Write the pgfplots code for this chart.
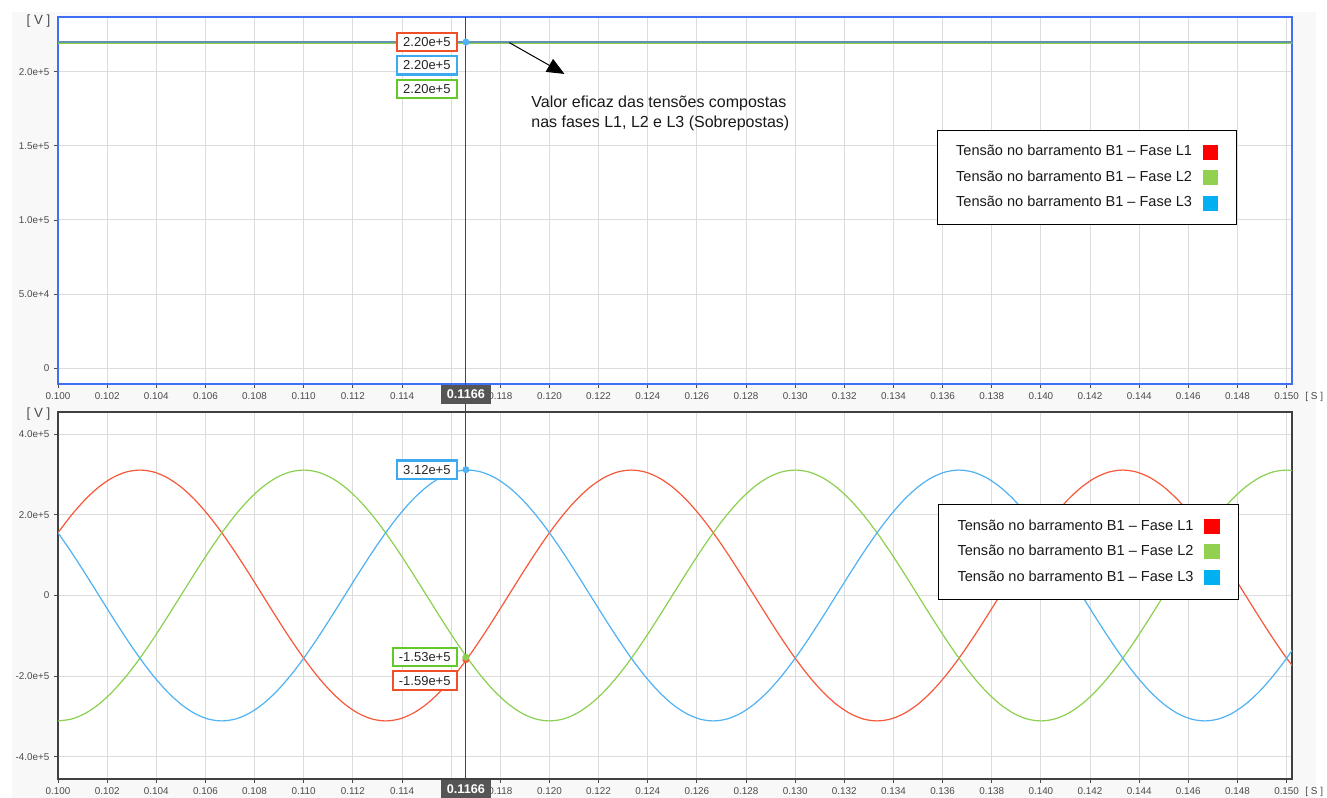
\documentclass[border=0pt]{standalone}
\usepackage{pgfplots}
\pgfplotsset{compat=1.18}
\usepackage{pgfplotstable}
\usepackage{fontspec}
\setmainfont{Liberation Sans}
\usetikzlibrary{arrows.meta}

\definecolor{cR}{RGB}{248,88,58}
\definecolor{cG}{RGB}{140,208,80}
\definecolor{cB}{RGB}{78,178,245}
\definecolor{cTop}{RGB}{100,148,172}
\definecolor{sqR}{RGB}{255,0,0}
\definecolor{sqG}{RGB}{146,208,80}
\definecolor{sqB}{RGB}{0,176,240}
\definecolor{bxR}{RGB}{240,80,40}
\definecolor{bxG}{RGB}{100,200,40}
\definecolor{bxB}{RGB}{60,170,240}
\definecolor{frameblue}{RGB}{64,110,245}
\definecolor{gridgray}{RGB}{220,220,220}
\definecolor{tickgray}{RGB}{75,75,75}
\definecolor{bgray}{RGB}{248,248,248}
\definecolor{curgray}{RGB}{70,70,70}
\definecolor{curbox}{RGB}{85,85,85}

\pgfplotstableread{
t L1 L2 L3
0.100000 155500 -311000 155500
0.100556 199907 -306275 106368
0.101111 238240 -292245 54005
0.101667 269334 -269334 0
0.102222 292245 -238240 -54005
0.102778 306275 -199907 -106368
0.103333 311000 -155500 -155500
0.103889 306275 -106368 -199907
0.104444 292245 -54005 -238240
0.105000 269334 0 -269334
0.105556 238240 54005 -292245
0.106111 199907 106368 -306275
0.106667 155500 155500 -311000
0.107222 106368 199907 -306275
0.107778 54005 238240 -292245
0.108333 0 269334 -269334
0.108889 -54005 292245 -238240
0.109444 -106368 306275 -199907
0.110000 -155500 311000 -155500
0.110556 -199907 306275 -106368
0.111111 -238240 292245 -54005
0.111667 -269334 269334 0
0.112222 -292245 238240 54005
0.112778 -306275 199907 106368
0.113333 -311000 155500 155500
0.113889 -306275 106368 199907
0.114444 -292245 54005 238240
0.115000 -269334 0 269334
0.115556 -238240 -54005 292245
0.116111 -199907 -106368 306275
0.116667 -155500 -155500 311000
0.117222 -106368 -199907 306275
0.117778 -54005 -238240 292245
0.118333 0 -269334 269334
0.118889 54005 -292245 238240
0.119444 106368 -306275 199907
0.120000 155500 -311000 155500
0.120556 199907 -306275 106368
0.121111 238240 -292245 54005
0.121667 269334 -269334 0
0.122222 292245 -238240 -54005
0.122778 306275 -199907 -106368
0.123333 311000 -155500 -155500
0.123889 306275 -106368 -199907
0.124444 292245 -54005 -238240
0.125000 269334 0 -269334
0.125556 238240 54005 -292245
0.126111 199907 106368 -306275
0.126667 155500 155500 -311000
0.127222 106368 199907 -306275
0.127778 54005 238240 -292245
0.128333 0 269334 -269334
0.128889 -54005 292245 -238240
0.129444 -106368 306275 -199907
0.130000 -155500 311000 -155500
0.130556 -199907 306275 -106368
0.131111 -238240 292245 -54005
0.131667 -269334 269334 0
0.132222 -292245 238240 54005
0.132778 -306275 199907 106368
0.133333 -311000 155500 155500
0.133889 -306275 106368 199907
0.134444 -292245 54005 238240
0.135000 -269334 0 269334
0.135556 -238240 -54005 292245
0.136111 -199907 -106368 306275
0.136667 -155500 -155500 311000
0.137222 -106368 -199907 306275
0.137778 -54005 -238240 292245
0.138333 0 -269334 269334
0.138889 54005 -292245 238240
0.139444 106368 -306275 199907
0.140000 155500 -311000 155500
0.140556 199907 -306275 106368
0.141111 238240 -292245 54005
0.141667 269334 -269334 0
0.142222 292245 -238240 -54005
0.142778 306275 -199907 -106368
0.143333 311000 -155500 -155500
0.143889 306275 -106368 -199907
0.144444 292245 -54005 -238240
0.145000 269334 0 -269334
0.145556 238240 54005 -292245
0.146111 199907 106368 -306275
0.146667 155500 155500 -311000
0.147222 106368 199907 -306275
0.147778 54005 238240 -292245
0.148333 0 269334 -269334
0.148889 -54005 292245 -238240
0.149444 -106368 306275 -199907
0.150000 -155500 311000 -155500
0.150556 -199907 306275 -106368
}\wave

\pgfplotstableread{
t L1 L2 L3
0.100 220000 220000 220000
0.125 220000 220000 220000
0.1505 220000 220000 220000
}\rms

\tikzset{
  lbl/.style={fill=white, line width=1.6pt, minimum height=13.7pt, inner xsep=4.7pt, inner ysep=0pt,
    font=\fontsize{9.75}{11}\selectfont, text=black!85, anchor=east, xshift=-6pt},
  curlbl/.style={fill=curbox, text=white, font=\bfseries\fontsize{9.5}{10}\selectfont,
    minimum width=37.5pt, minimum height=14.25pt, inner sep=0pt},
}

\pgfplotsset{
  panel/.style={
    scale only axis, width=925.5pt, height=275.25pt,
    xmin=0.1, xmax=0.15022,
    xtick={0.100,0.102,0.104,0.106,0.108,0.110,0.112,0.114,0.116,0.118,0.120,0.122,0.124,0.126,0.128,0.130,0.132,0.134,0.136,0.138,0.140,0.142,0.144,0.146,0.148,0.150},
    xticklabels={0.100,0.102,0.104,0.106,0.108,0.110,0.112,0.114,,0.118,0.120,0.122,0.124,0.126,0.128,0.130,0.132,0.134,0.136,0.138,0.140,0.142,0.144,0.146,0.148,0.150},
    scaled x ticks=false, scaled y ticks=false,
    grid=major, major grid style={gridgray, line width=0.75pt},
    tick align=outside, xtick pos=bottom, ytick pos=left,
    major tick length=3pt,
    tick style={tickgray, line width=0.6pt},
    tick label style={font=\fontsize{7.4}{8}\selectfont, text=tickgray},
    axis background/.style={fill=white},
    clip mode=individual,
    legend plot pos=right,
    legend cell align=left,
    legend style={anchor=north west, draw=black, line width=0.8pt, fill=white,
      font=\fontsize{10.9}{13}\selectfont, text=black!90,
      inner xsep=14pt, inner ysep=10.5pt, row sep=7.9pt, column sep=8.25pt,
      nodes={inner sep=0pt, text height=8pt, text depth=2.5pt}},
  },
}

\newcommand{\sqlegend}{%
  \addlegendimage{legend image code/.code={\fill[sqR] (0pt,-5.25pt) rectangle (10.5pt,5.25pt);}}
  \addlegendentry{Tensão no barramento B1 – Fase L1}
  \addlegendimage{legend image code/.code={\fill[sqG] (0pt,-5.25pt) rectangle (10.5pt,5.25pt);}}
  \addlegendentry{Tensão no barramento B1 – Fase L2}
  \addlegendimage{legend image code/.code={\fill[sqB] (0pt,-5.25pt) rectangle (10.5pt,5.25pt);}}
  \addlegendentry{Tensão no barramento B1 – Fase L3}
}

\begin{document}
\begin{tikzpicture}
\path[use as bounding box] (0pt,0pt) rectangle (995.25pt,-598.5pt);
\fill[bgray] (9pt,-9pt) rectangle (987pt,-598.5pt);

% ---------------- top panel ----------------
\begin{axis}[panel, at={(43.5pt,-12.75pt)}, anchor=north west,
  ymin=-10600, ymax=236900,
  ytick={0,50000,100000,150000,200000},
  yticklabels={0,5.0e+4,1.0e+5,1.5e+5,2.0e+5},
  axis line style={frameblue, line width=1.5pt},
  legend style={at={(0.7123,0.6921)}}]
\sqlegend
\addplot[cR, line width=1pt, forget plot] table[x=t,y=L1]{\rms};
\addplot[cG, line width=1.5pt, forget plot, yshift=-0.45pt] table[x=t,y=L2]{\rms};
\addplot[cTop, line width=1.1pt, forget plot] table[x=t,y=L3]{\rms};
\draw[curgray, line width=0.75pt] ({axis cs:0.1166,0}|-{rel axis cs:0,1}) -- ({axis cs:0.1166,0}|-{rel axis cs:0,-0.0763});
\addplot[only marks, mark=*, mark size=2.4pt, cB, forget plot] coordinates {(0.1166,220000)};
\node[lbl, draw=bxR] at (axis cs:0.1166,220000) {2.20e+5};
\node[lbl, draw=bxB, yshift=-17.5pt] at (axis cs:0.1166,220000) {2.20e+5};
\node[lbl, draw=bxG, yshift=-35pt] at (axis cs:0.1166,220000) {2.20e+5};
\draw[black, line width=0.75pt, -{Triangle[length=13pt,width=11pt]}] (axis cs:0.11837,219600) -- (axis cs:0.12061,198500);
\node[anchor=west, align=left, inner sep=0pt, font=\fontsize{12}{15}\selectfont, text=black!90] at (axis cs:0.119255,172150) {Valor eficaz das tensões compostas\\nas fases L1, L2 e L3 (Sobrepostas)};
\coordinate (cur1) at ({axis cs:0.1166,0}|-{rel axis cs:0,0});
\end{axis}

% ---------------- bottom panel ----------------
\begin{axis}[panel, at={(43.5pt,-309pt)}, anchor=north west,
  ymin=-455000, ymax=455000,
  ytick={-400000,-200000,0,200000,400000},
  yticklabels={-4.0e+5,-2.0e+5,0,2.0e+5,4.0e+5},
  axis line style={black!75, line width=0.9pt},
  legend style={at={(0.7134,0.7485)}}]
\sqlegend
\addplot[cR, line width=0.9pt, smooth, forget plot] table[x=t,y=L1]{\wave};
\addplot[cG, line width=0.9pt, smooth, forget plot] table[x=t,y=L2]{\wave};
\addplot[cB, line width=0.9pt, smooth, forget plot] table[x=t,y=L3]{\wave};
\draw[curgray, line width=0.75pt] ({axis cs:0.1166,0}|-{rel axis cs:0,1}) -- ({axis cs:0.1166,0}|-{rel axis cs:0,0});
\addplot[only marks, mark=*, mark size=2.4pt, cB, forget plot] coordinates {(0.1166,312000)};
\addplot[only marks, mark=*, mark size=2.4pt, cR, forget plot] coordinates {(0.1166,-159000)};
\addplot[only marks, mark=*, mark size=2.4pt, cG, forget plot] coordinates {(0.1166,-153000)};
\node[lbl, draw=bxB] at (axis cs:0.1166,312000) {3.12e+5};
\node[lbl, draw=bxG] at (axis cs:0.1166,-153000) {-1.53e+5};
\node[lbl, draw=bxR, yshift=-17.5pt] at (axis cs:0.1166,-153000) {-1.59e+5};
\coordinate (cur2) at ({axis cs:0.1166,0}|-{rel axis cs:0,0});
\end{axis}

% cursor value boxes
\node[curlbl] at ([yshift=-7.9pt]cur1) {0.1166};
\node[curlbl] at ([yshift=-7.9pt]cur2) {0.1166};

% unit labels
\node[anchor=east, inner sep=0pt, font=\fontsize{10}{11}\selectfont, text=tickgray] at (38pt,-15.5pt) {[ V ]};
\node[anchor=east, inner sep=0pt, font=\fontsize{10}{11}\selectfont, text=tickgray] at (38pt,-310.3pt) {[ V ]};
\node[anchor=west, inner sep=0pt, font=\fontsize{7.5}{8}\selectfont, text=tickgray] at (978.75pt,-297.5pt) {[ S ]};
\node[anchor=west, inner sep=0pt, font=\fontsize{7.5}{8}\selectfont, text=tickgray] at (978.75pt,-593.6pt) {[ S ]};
\end{tikzpicture}
\end{document}
